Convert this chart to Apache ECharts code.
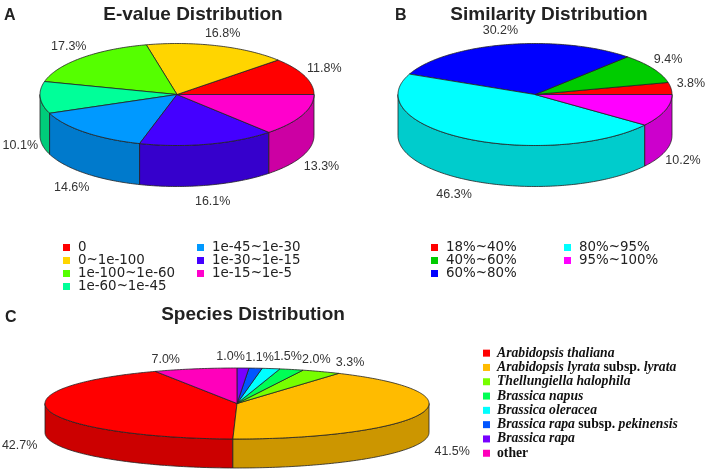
<!DOCTYPE html>
<html>
<head>
<meta charset="utf-8">
<style>
html, body { margin: 0; padding: 0; background: #fff; }
#main { width: 708px; height: 471px; }
</style>
<script src="https://cdn.jsdelivr.net/npm/echarts@6/dist/echarts.min.js"></script>
</head>
<body>
<div id="main"></div>
<script>
var evalueNames = ['0', '0~1e-100', '1e-100~1e-60', '1e-60~1e-45', '1e-45~1e-30', '1e-30~1e-15', '1e-15~1e-5'];
var evalueValues = [11.8, 16.8, 17.3, 10.1, 14.6, 16.1, 13.3];
var evalueColors = ['#ff0000', '#ffd500', '#55ff00', '#00ff99', '#0099ff', '#4400ff', '#ff00cc'];

var similarityNames = ['18%~40%', '40%~60%', '60%~80%', '80%~95%', '95%~100%'];
var similarityValues = [3.8, 9.4, 30.2, 46.3, 10.2];
var similarityColors = ['#ff0000', '#00cc00', '#0000ff', '#00ffff', '#ff00ff'];

var speciesNames = ['Arabidopsis thaliana', 'Arabidopsis lyrata subsp. lyrata', 'Thellungiella halophila', 'Brassica napus', 'Brassica oleracea', 'Brassica rapa subsp. pekinensis', 'Brassica rapa', 'other'];
var speciesValues = [42.7, 41.5, 3.3, 2.0, 1.5, 1.1, 1.0, 7.0];
var speciesColors = ['#ff0000', '#ffbb00', '#77ff00', '#00ff55', '#00ffff', '#0055ff', '#7700ff', '#ff00bb'];

// labels don't sit on a clean radial rule in the original, so each gets a nudge
var pies = [
    {names: evalueNames, values: evalueValues, colors: evalueColors, cx: 177, cy: 94.5, rx: 137, ry: 51, depth: 41, start: 0,
        nudge: [[1, -2], [-1, 1], [1, -1], [0, 6], [0, 4], [0, 3], [1, 5]]},
    {names: similarityNames, values: similarityValues, colors: similarityColors, cx: 535, cy: 94.5, rx: 137, ry: 51, depth: 41, start: 0,
        nudge: [[0, -3], [-2, -2], [-2, 0], [-2, 3], [-1, 5]]},
    {names: speciesNames, values: speciesValues, colors: speciesColors, cx: 237, cy: 403.5, rx: 192, ry: 35.5, depth: 29, start: 115.2,
        nudge: [[-10, 3], [12, 5], [20, 4], [19, 4], [13, 2], [2, 3], [-13, 3], [-25, 4]]}
];

function darken(color) {
    var n = parseInt(color.slice(1), 16);
    var r = Math.round((n >> 16) * 0.8), g = Math.round(((n >> 8) & 255) * 0.8), b = Math.round((n & 255) * 0.8);
    return 'rgb(' + r + ',' + g + ',' + b + ')';
}

function ellipsePoint(pie, deg, dy) {
    var a = deg * Math.PI / 180;
    return [pie.cx + pie.rx * Math.cos(a), pie.cy - pie.ry * Math.sin(a) + (dy || 0)];
}

function arcPoints(pie, from, to, dy) {
    var pts = [];
    var steps = Math.max(2, Math.ceil(Math.abs(to - from)));
    for (var i = 0; i <= steps; i++) {
        pts.push(ellipsePoint(pie, from + (to - from) * i / steps, dy));
    }
    return pts;
}

function sliceSeries(pie, idx, a0, a1) {
    var color = pie.colors[idx];
    var lineStyle = {stroke: '#222', lineWidth: 0.8, lineJoin: 'round'};
    return {
        type: 'custom',
        name: pie.names[idx],
        coordinateSystem: 'none',
        silent: true,
        animation: false,
        itemStyle: {color: color},
        data: [pie.values[idx]],
        renderItem: function (params, api) {
            var children = [];
            // wall of the disc, only the part on the front half
            for (var k = 0; k < 2; k++) {
                var from = Math.max(a0, 180 + 360 * k);
                var to = Math.min(a1, 360 + 360 * k);
                if (to > from) {
                    var wall = arcPoints(pie, from, to, 0).concat(arcPoints(pie, to, from, pie.depth));
                    children.push({type: 'polygon', shape: {points: wall},
                        style: {fill: darken(color), stroke: lineStyle.stroke, lineWidth: lineStyle.lineWidth, lineJoin: 'round'}});
                }
            }
            var top = [[pie.cx, pie.cy]].concat(arcPoints(pie, a0, a1, 0));
            children.push({type: 'polygon', shape: {points: top},
                style: {fill: color, stroke: lineStyle.stroke, lineWidth: lineStyle.lineWidth, lineJoin: 'round'}});

            var mid = (a0 + a1) / 2;
            var c = Math.cos(mid * Math.PI / 180), s = Math.sin(mid * Math.PI / 180);
            var p = ellipsePoint(pie, mid, s < 0 ? pie.depth : 0);
            var n = pie.nudge ? pie.nudge[idx] : [0, 0];
            children.push({type: 'text', z2: 10, style: {
                x: p[0] + 20 * c + n[0],
                y: p[1] - 14 * s + n[1],
                text: api.value(0).toFixed(1) + '%',
                fill: '#333',
                font: '12.5px "Liberation Sans"',
                align: 'center',
                verticalAlign: 'middle'
            }});
            return {type: 'group', children: children};
        }
    };
}

var series = [];
pies.forEach(function (pie) {
    var total = pie.values.reduce(function (a, b) { return a + b; }, 0);
    var angle = pie.start;
    pie.values.forEach(function (v, i) {
        var sweep = v / total * 360;
        series.push(sliceSeries(pie, i, angle, angle + sweep));
        angle += sweep;
    });
});

function headTitle(text, x, y, align, size) {
    return {text: text, left: x, top: y, textAlign: align, padding: 0,
        textStyle: {fontFamily: 'Liberation Sans', fontWeight: 'bold', fontSize: size, color: '#222'}};
}

function sansLegend(names, x, y) {
    return {
        data: names, left: x, top: y, orient: 'vertical', icon: 'rect',
        itemWidth: 7, itemHeight: 7, itemGap: 0, padding: 0, selectedMode: false,
        textStyle: {fontFamily: 'DejaVu Sans', fontSize: 13.4, color: '#222', padding: [0, 0, 0, 3], lineHeight: 13}
    };
}

function speciesLabel(name) {
    if (name === 'other') return '{n|other}';
    return name.split(' subsp. ').map(function (s) { return '{i|' + s + '}'; }).join(' {n|subsp.} ');
}

var option = {
    backgroundColor: '#fff',
    animation: false,
    title: [
        headTitle('A', 4, 8, undefined, 16),
        headTitle('B', 395, 8, undefined, 16),
        headTitle('C', 5, 310, undefined, 16),
        headTitle('E-value Distribution', 193, 5, 'center', 19),
        headTitle('Similarity Distribution', 549, 5, 'center', 19),
        headTitle('Species Distribution', 253, 305, 'center', 19)
    ],
    legend: [
        sansLegend(evalueNames.slice(0, 4), 63, 241),
        sansLegend(evalueNames.slice(4), 197, 241),
        sansLegend(similarityNames.slice(0, 3), 431, 241),
        sansLegend(similarityNames.slice(3), 564, 241),
        {
            data: speciesNames, left: 483, top: 346, orient: 'vertical', icon: 'rect',
            itemWidth: 7, itemHeight: 7, itemGap: 0, padding: 0, selectedMode: false,
            formatter: speciesLabel,
            textStyle: {
                padding: [0, 0, 0, 2], lineHeight: 14.3, color: '#111',
                rich: {
                    i: {fontFamily: 'Liberation Serif', fontStyle: 'italic', fontWeight: 'bold', fontSize: 13.7, color: '#111', lineHeight: 14.3},
                    n: {fontFamily: 'Liberation Serif', fontWeight: 'bold', fontSize: 13.7, color: '#111', lineHeight: 14.3}
                }
            }
        }
    ],
    series: series
};

var myChart = echarts.init(document.getElementById('main'));
myChart.setOption(option);
</script>
</body>
</html>
